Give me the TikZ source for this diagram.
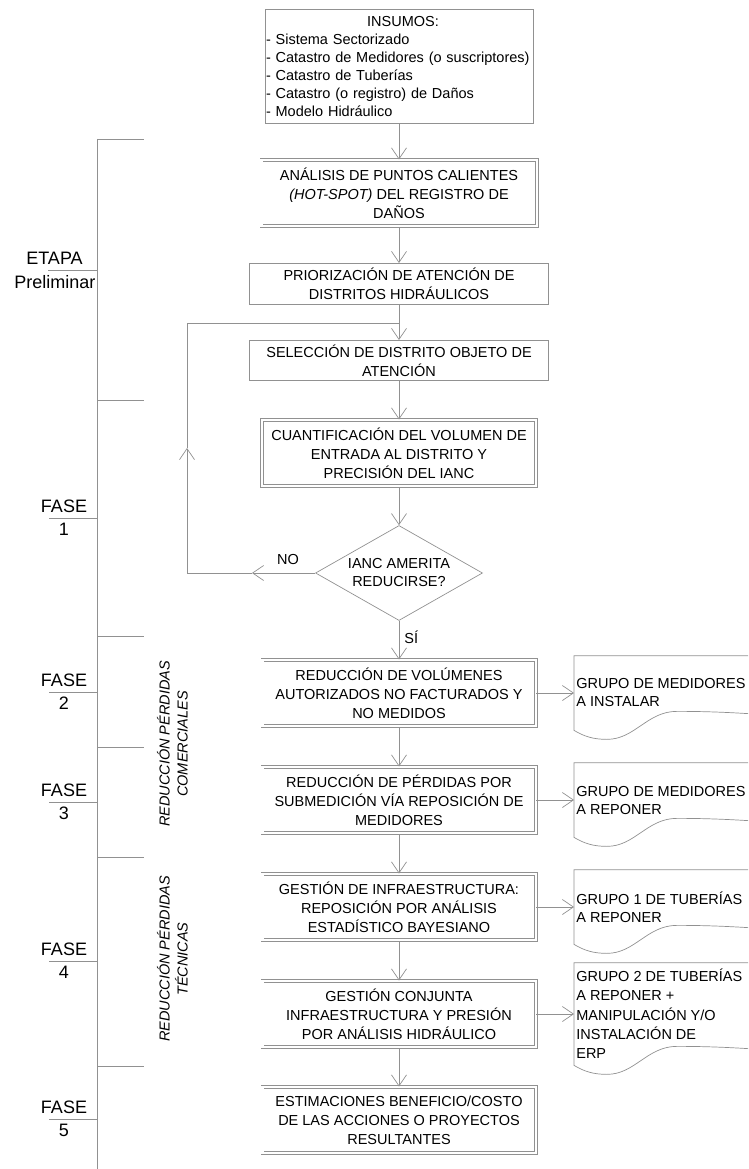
\documentclass[tikz,border=0pt]{standalone}
\usepackage{fontspec}
\setmainfont{Liberation Sans}
\usetikzlibrary{arrows.meta,shapes.geometric}
\definecolor{linegray}{RGB}{145,145,145}

\begin{document}
\begin{tikzpicture}[x=1pt,y=-1pt,>={Straight Barb[length=11pt,width=15pt]},line width=0.7pt]

  \tikzstyle{box}=[rectangle,draw=linegray,align=center,inner sep=0pt,font=\fontsize{14.5}{19}\selectfont]
  \tikzstyle{dbox}=[box,double=white,double distance=2.3pt,minimum width=273.3pt,minimum height=66.3pt]
  \tikzstyle{decision}=[diamond,draw=linegray,aspect=1.75,inner sep=0pt,minimum width=167pt,minimum height=95pt,align=center,font=\fontsize{14.5}{18}\selectfont]
  \tikzstyle{doc}=[rectangle,anchor=west,align=left,inner sep=2pt,minimum height=74pt,font=\fontsize{14.5}{18}\selectfont]
  \tikzstyle{pre}=[<-,draw=linegray]
  \tikzstyle{rule}=[draw=linegray]
  \tikzstyle{fase}=[inner sep=0pt,font=\fontsize{18}{20}\selectfont]
  \tikzstyle{tag}=[inner sep=0pt,font=\fontsize{14.5}{18}\selectfont]
  \tikzstyle{side}=[rotate=90,align=center,inner sep=0pt,font=\fontsize{14.5}{18}\selectfont\itshape]

  \useasboundingbox (0,0) rectangle (748,1169);
  \clip (0,0) rectangle (748,1169);

  % main column
  \path (399,66.5) node[box,minimum width=268pt,minimum height=114pt,text width=266pt,align=left,font=\fontsize{14.5}{17.9}\selectfont] (ins)
         {{\centering\hspace*{8pt}INSUMOS:\par}- Sistema Sectorizado\\- Catastro de Medidores (o suscriptores)\\- Catastro de Tuberías\\- Catastro (o registro) de Daños\\- Modelo Hidráulico}
     ++(0,126.5) node[dbox,minimum width=275.3pt] (ana) {ANÁLISIS DE PUNTOS CALIENTES\\\textit{(HOT-SPOT)} DEL REGISTRO DE\\DAÑOS} edge[pre] (ins)
     ++(0,91)    node[box,minimum width=299.3pt,minimum height=41.3pt] (pri) {PRIORIZACIÓN DE ATENCIÓN DE\\DISTRITOS HIDRÁULICOS} edge[pre] (ana)
     ++(0,76.5)  node[box,minimum width=299.3pt,minimum height=40.3pt] (sel) {SELECCIÓN DE DISTRITO OBJETO DE\\ATENCIÓN} edge[pre] (pri)
     ++(0,92.5)  node[dbox,minimum width=274.3pt] (cua) {CUANTIFICACIÓN DEL VOLUMEN DE\\ENTRADA AL DISTRITO Y\\PRECISIÓN DEL IANC} edge[pre] (sel)
     ++(0,120)   node[decision] (dia) {IANC AMERITA\\REDUCIRSE?} edge[pre] (cua)
     ++(0,120)   node[dbox] (rvo) {REDUCCIÓN DE VOLÚMENES\\AUTORIZADOS NO FACTURADOS Y\\NO MEDIDOS} edge[pre] (dia)
     ++(0,107)   node[dbox] (rpe) {REDUCCIÓN DE PÉRDIDAS POR\\SUBMEDICIÓN VÍA REPOSICIÓN DE\\MEDIDORES} edge[pre] (rvo)
     ++(0,107)   node[dbox] (gin) {GESTIÓN DE INFRAESTRUCTURA:\\REPOSICIÓN POR ANÁLISIS\\ESTADÍSTICO BAYESIANO} edge[pre] (rpe)
     ++(0,107)   node[dbox] (gco) {GESTIÓN CONJUNTA\\INFRAESTRUCTURA Y PRESIÓN\\POR ANÁLISIS HIDRÁULICO} edge[pre] (gin)
     ++(0,106)   node[dbox] (est) {ESTIMACIONES BENEFICIO/COSTO\\DE LAS ACCIONES O PROYECTOS\\RESULTANTES} edge[pre] (gco);

  % outputs
  \path (rvo.east) ++(38,0) node[doc] (g1) {GRUPO DE MEDIDORES\\A INSTALAR} edge[pre] (rvo)
        (rpe.east) ++(38,0) node[doc] (g2) {GRUPO DE MEDIDORES\\A REPONER} edge[pre] (rpe)
        (gin.east) ++(38,0) node[doc] (g3) {GRUPO 1 DE TUBERÍAS\\A REPONER} edge[pre] (gin)
        (gco.east) ++(38,0) node[doc,minimum height=102pt,font=\fontsize{14.5}{19.3}\selectfont] (g4)
           {GRUPO 2 DE TUBERÍAS\\A REPONER +\\MANIPULACIÓN Y/O\\INSTALACIÓN DE\\ERP} edge[pre] (gco);

  \foreach \g in {g1,g2,g3,g4}
    \draw[rule] (\g.north west) ++(220,0) -- (\g.north west) -- (\g.south west)
       .. controls +(10,6) and +(-14,0) .. ++(33,9)
       .. controls +(28,0) and +(-30,0) .. ++(70,-28)
       .. controls +(40,0) and +(-40,-3) .. ++(110,5);

  % loop back
  \coordinate (lpA) at (252,573);
  \coordinate (lpL) at (187,573);
  \coordinate (lpB) at (187,448);
  \coordinate (lpT) at (187,323);
  \coordinate (lpJ) at (sel.north |- lpT);
  \draw[rule,->] (dia.west) -- (lpA);
  \draw[rule] (lpA) -- (lpL);
  \draw[rule,->] (lpL) -- (lpB);
  \draw[rule] (lpB) -- (lpT) -- (lpJ);

  \node[tag] (no) at (288,560) {NO};
  \node[tag,anchor=west] (si) at (404,637) {SÍ};

  % stages on the left
  \draw[rule] (97,139) -- (97,1169);
  \foreach \y in {139,400,636,747,857,1066}
    \draw[rule] (97,\y) -- (144,\y);

  \node[fase] (eta) at (54.5,258) {ETAPA};
  \node[fase] (prel) at (55,282) {Preliminar};
  \draw[rule] (48,270) -- (97,270);

  \foreach \n/\y in {1/518,2/692,3/802,4/961,5/1119} {
    \draw[rule] (49,\y) -- (97,\y);
    \node[fase] (fase\n) at (64,\y-11.5) {FASE};
    \node[fase] (num\n) at (64,\y+11.5) {\n};
  }

  \node[side] (com) at (172.5,744) {REDUCCIÓN PÉRDIDAS\\COMERCIALES};
  \node[side] (tec) at (172.5,959) {REDUCCIÓN PÉRDIDAS\\TÉCNICAS};

\end{tikzpicture}
\end{document}
